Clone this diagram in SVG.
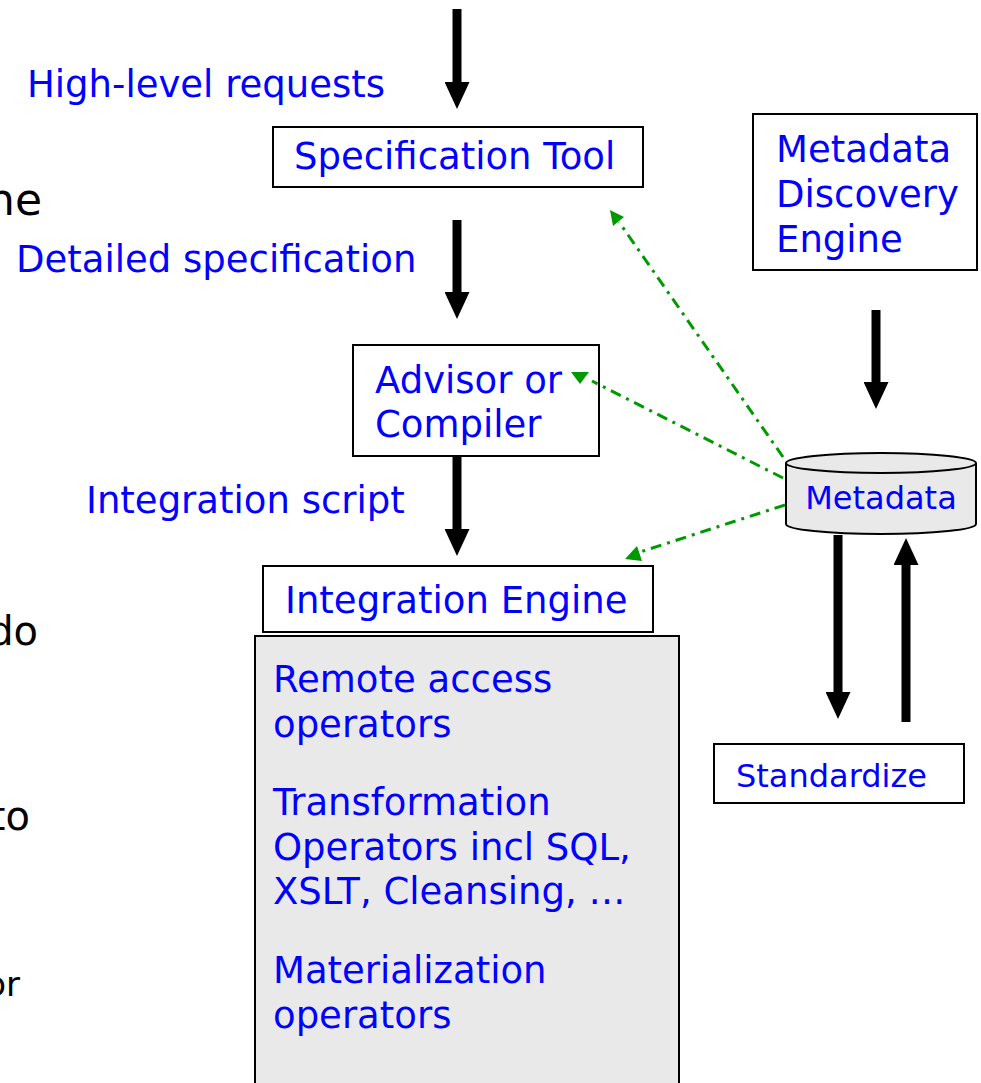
<svg xmlns="http://www.w3.org/2000/svg" width="981" height="1083" viewBox="0 0 981 1083">
  <style>
    .lbl { font-family: "DejaVu Sans", Verdana, sans-serif; font-size: 37px; fill: #0000ff; }
    .sm { font-family: "DejaVu Sans", Verdana, sans-serif; font-size: 32px; fill: #0000ff; }
    .side { font-family: "DejaVu Sans", Verdana, sans-serif; fill: #000000; text-anchor: end; }
    .box { fill: #ffffff; stroke: #000000; stroke-width: 2; }
    .grey { fill: #e9e9e9; stroke: #000000; stroke-width: 2; }
    .flow { stroke: #000000; stroke-width: 9; fill: none; marker-end: url(#head); }
    .meta { stroke: #009900; stroke-width: 3; fill: none; stroke-dasharray: 11 6 3 6; }
    .mhead { fill: #009900; }
  </style>
  <defs>
    <marker id="head" markerUnits="userSpaceOnUse" markerWidth="27" markerHeight="25" viewBox="0 0 27 25" refX="0" refY="12.5" orient="auto">
      <path d="M0,0 L27,12.5 L0,25 Z" fill="#000000"/>
    </marker>
  </defs>

  <rect width="981" height="1083" fill="#ffffff"/>

  <!-- clipped fragments of the bullet text on the left -->
  <g id="side-text">
    <text class="side" x="42" y="215" font-size="44">ne</text>
    <text class="side" x="38" y="645" font-size="40">do</text>
    <text class="side" x="30" y="830" font-size="40">to</text>
    <text class="side" x="20" y="996" font-size="34">or</text>
  </g>

  <!-- edge labels -->
  <g id="labels">
    <text class="lbl" x="27" y="97">High-level requests</text>
    <text class="lbl" x="16" y="272">Detailed specification</text>
    <text class="lbl" x="86" y="513">Integration script</text>
  </g>

  <g id="spec-tool">
    <rect class="box" x="273" y="127" width="370" height="60"/>
    <text class="lbl" x="294" y="169">Specification Tool</text>
  </g>

  <g id="discovery-engine">
    <rect class="box" x="753" y="114" width="224" height="156"/>
    <text class="lbl" x="776" y="162">Metadata</text>
    <text class="lbl" x="776" y="207">Discovery</text>
    <text class="lbl" x="776" y="252">Engine</text>
  </g>

  <g id="advisor">
    <rect class="box" x="353" y="345" width="246" height="111"/>
    <text class="lbl" x="375" y="393">Advisor or</text>
    <text class="lbl" x="375" y="437">Compiler</text>
  </g>

  <g id="metadata">
    <path class="grey" d="M786,463 L786,524 A95,10 0 0 0 976,524 L976,463"/>
    <ellipse class="grey" cx="881" cy="463" rx="95" ry="10"/>
    <text class="sm" x="881" y="509" text-anchor="middle" font-size="31">Metadata</text>
  </g>

  <g id="standardize">
    <rect class="box" x="714" y="744" width="250" height="59"/>
    <text class="sm" x="736" y="787">Standardize</text>
  </g>

  <g id="integration-engine">
    <rect class="box" x="263" y="566" width="390" height="66"/>
    <text class="lbl" x="285" y="613">Integration Engine</text>
  </g>

  <g id="operators">
    <rect class="grey" x="255" y="636" width="424" height="460"/>
    <text class="lbl" x="273" y="692">Remote access</text>
    <text class="lbl" x="273" y="737">operators</text>
    <text class="lbl" x="273" y="815">Transformation</text>
    <text class="lbl" x="273" y="860">Operators incl SQL,</text>
    <text class="lbl" x="273" y="904">XSLT, Cleansing, …</text>
    <text class="lbl" x="273" y="983">Materialization</text>
    <text class="lbl" x="273" y="1028">operators</text>
  </g>

  <g id="connectors">
    <!-- main flow -->
    <line class="flow" x1="457" y1="9" x2="457" y2="82"/>
    <line class="flow" x1="457" y1="220" x2="457" y2="292"/>
    <line class="flow" x1="457" y1="456" x2="457" y2="529"/>
    <line class="flow" x1="876" y1="310" x2="876" y2="382"/>
    <line class="flow" x1="838" y1="535" x2="838" y2="692"/>
    <line class="flow" x1="906" y1="722" x2="906" y2="565"/>
    <!-- metadata references -->
    <line class="meta" x1="783" y1="457" x2="619" y2="222"/>
    <polygon class="mhead" points="610,210 624,217 613,226"/>
    <line class="meta" x1="783" y1="478" x2="592" y2="381"/>
    <polygon class="mhead" points="571,372 589,372 580,384"/>
    <line class="meta" x1="785" y1="505" x2="640" y2="552"/>
    <polygon class="mhead" points="625,559 637,546 642,561"/>
  </g>
</svg>
